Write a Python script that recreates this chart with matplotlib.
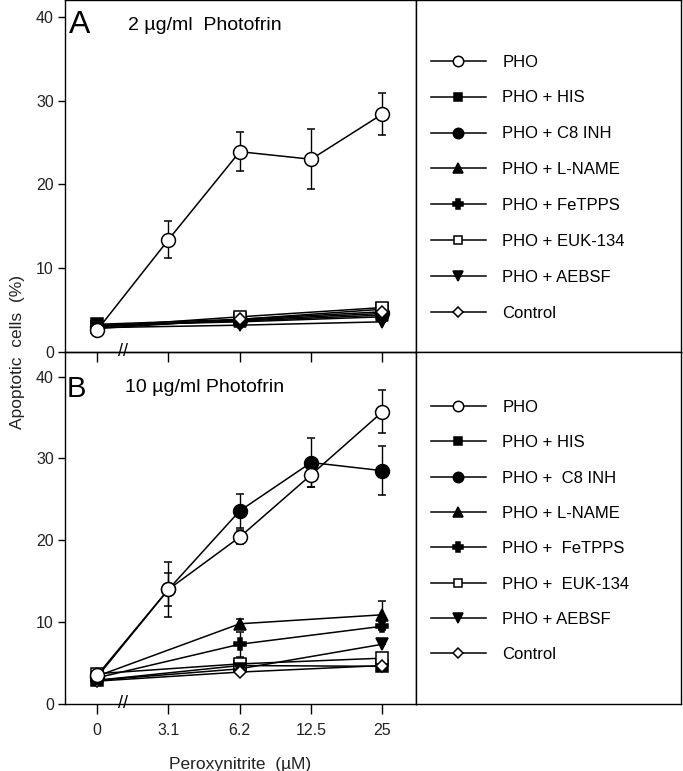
import numpy as np
import matplotlib
matplotlib.use('Agg')
import matplotlib.pyplot as plt
import matplotlib.transforms as mtransforms

plt.rcParams['font.family'] = ['Liberation Sans', 'DejaVu Sans']

# x axis: peroxynitrite concentrations (equally spaced categories)
x_labels = ['0', '3.1', '6.2', '12.5', '25']
x_all = [0, 1, 2, 3, 4]
x_sub = [0, 2, 4]          # inhibitor series measured at 0, 6.2 and 25 uM only

# ---- panel A : 2 ug/ml Photofrin ----
a_pho = [2.6, 13.4, 23.9, 23.0, 28.4]
a_pho_err = [0, 2.2, 2.3, 3.6, 2.5]
a_his = [3.3, 3.9, 5.1]
a_c8 = [3.0, 3.8, 4.6]
a_lname = [3.1, 3.7, 4.4]
a_fetpps = [3.2, 3.6, 4.2]
a_euk = [3.0, 4.2, 5.3]
a_aebsf = [2.9, 3.2, 3.6]
a_ctrl = [2.8, 3.9, 4.8]

# ---- panel B : 10 ug/ml Photofrin ----
b_pho = [3.5, 14.0, 20.4, 28.0, 35.7]
b_pho_err = [0, 2.0, 0.8, 1.5, 2.6]
b_c8 = [3.3, 14.0, 23.6, 29.5, 28.5]
b_c8_err = [0, 3.4, 2.1, 3.0, 3.0]
b_his = [2.9, 4.7, 4.6]
b_lname = [3.4, 9.8, 10.9]
b_lname_err = [0, 0.6, 1.7]
b_fetpps = [3.2, 7.3, 9.5]
b_fetpps_err = [0, 1.5, 0.5]
b_euk = [3.7, 4.9, 5.6]
b_aebsf = [2.9, 4.3, 7.3]
b_ctrl = [2.8, 3.9, 4.7]

labels_a = ['PHO', 'PHO + HIS', 'PHO + C8 INH', 'PHO + L-NAME', 'PHO + FeTPPS',
            'PHO + EUK-134', 'PHO + AEBSF', 'Control']
labels_b = ['PHO', 'PHO + HIS', 'PHO +  C8 INH', 'PHO + L-NAME', 'PHO +  FeTPPS',
            'PHO +  EUK-134', 'PHO + AEBSF', 'Control']

# marker style per series (PHO, HIS, C8, L-NAME, FeTPPS, EUK, AEBSF, Control)
styles = [dict(marker='o', mfc='white', ms=10),
          dict(marker='s', mfc='black', ms=8),
          dict(marker='o', mfc='black', ms=10),
          dict(marker='^', mfc='black', ms=9),
          dict(marker='P', mfc='black', ms=9),
          dict(marker='s', mfc='white', ms=8),
          dict(marker='v', mfc='black', ms=9),
          dict(marker='D', mfc='white', ms=6.5)]

W, H = 683, 771
fig = plt.figure(figsize=(W / 100, H / 100), dpi=100)

def box(x0, y0, x1, y1):
    return [x0 / W, 1 - y1 / H, (x1 - x0) / W, (y1 - y0) / H]

axA = fig.add_axes(box(65, 0, 416, 352))
axB = fig.add_axes(box(65, 352, 416, 704))
legA = fig.add_axes(box(416, 0, 681, 352))
legB = fig.add_axes(box(416, 352, 681, 704))


def draw(ax, xs, ys, st, err=None, z=3):
    if err is None:
        err = [0] * len(ys)
    eb = ax.errorbar(xs, ys, yerr=err, color='black', lw=1.1, mec='black', mew=1.1,
                     capsize=3, elinewidth=1.0, capthick=1.0, zorder=z, **st)
    return eb[0]


# panel A
handles_a = [None] * 8
for i, ys in zip(range(1, 8), [a_his, a_c8, a_lname, a_fetpps, a_euk, a_aebsf, a_ctrl]):
    handles_a[i] = draw(axA, x_sub, ys, styles[i])
handles_a[0] = draw(axA, x_all, a_pho, styles[0], a_pho_err, z=5)

# panel B
handles_b = [None] * 8
handles_b[1] = draw(axB, x_sub, b_his, styles[1])
handles_b[3] = draw(axB, x_sub, b_lname, styles[3], b_lname_err)
handles_b[4] = draw(axB, x_sub, b_fetpps, styles[4], b_fetpps_err)
handles_b[5] = draw(axB, x_sub, b_euk, styles[5])
handles_b[6] = draw(axB, x_sub, b_aebsf, styles[6])
handles_b[7] = draw(axB, x_sub, b_ctrl, styles[7])
handles_b[2] = draw(axB, x_all, b_c8, styles[2], b_c8_err, z=4)
handles_b[0] = draw(axB, x_all, b_pho, styles[0], b_pho_err, z=5)

for ax, top in [(axA, 42.0), (axB, 43.0)]:
    ax.set_xlim(-0.45, 4.47)
    ax.set_ylim(0, top)
    ax.set_yticks([0, 10, 20, 30, 40])
    ax.set_xticks(x_all)
    ax.tick_params(axis='y', direction='out', length=5, width=1, labelsize=11.5,
                   pad=3, labelcolor='#222222')
    ax.tick_params(axis='x', direction='out', length=7, width=1, labelsize=11.5,
                   labelcolor='#222222')
    for s in ax.spines.values():
        s.set_linewidth(1.0)
    # axis break mark between 0 and 3.1
    trans = mtransforms.blended_transform_factory(ax.transData, ax.transAxes)
    ax.text(0.37, 0.0, '//', transform=trans, ha='center', va='center',
            fontsize=13, clip_on=False, zorder=10)
    ax.patch.set_alpha(0)

axA.set_xticklabels([])
axB.set_xticklabels(x_labels)
axB.tick_params(axis='x', pad=7)
axB.set_xlabel('Peroxynitrite  (\u00b5M)', fontsize=12.5, labelpad=13, color='#222222')

axA.text(0.012, 0.906, 'A', transform=axA.transAxes, fontsize=23, va='baseline')
axA.text(0.18, 0.915, '2 \u00b5g/ml  Photofrin', transform=axA.transAxes, fontsize=14,
         va='baseline')
axB.text(0.005, 0.872, 'B', transform=axB.transAxes, fontsize=21, va='baseline')
axB.text(0.171, 0.886, '10 \u00b5g/ml Photofrin', transform=axB.transAxes, fontsize=14,
         va='baseline')

fig.text(18 / W, 1 - 352 / H, 'Apoptotic  cells  (%)', rotation=90, fontsize=12.5,
         ha='center', va='center', color='#222222')

for lax, hs, labs, top, sp in [(legA, handles_a, labels_a, 0.864, 1.255),
                               (legB, handles_b, labels_b, 0.883, 1.22)]:
    lax.set_xticks([])
    lax.set_yticks([])
    for s in lax.spines.values():
        s.set_linewidth(1.0)
    lax.legend(hs, labs, loc='upper left', bbox_to_anchor=(0.03, top), frameon=False,
               fontsize=12, handlelength=3.3, handletextpad=1.0, labelspacing=sp,
               markerscale=0.75, borderaxespad=0.0)

fig.savefig('out.png', dpi=100)
